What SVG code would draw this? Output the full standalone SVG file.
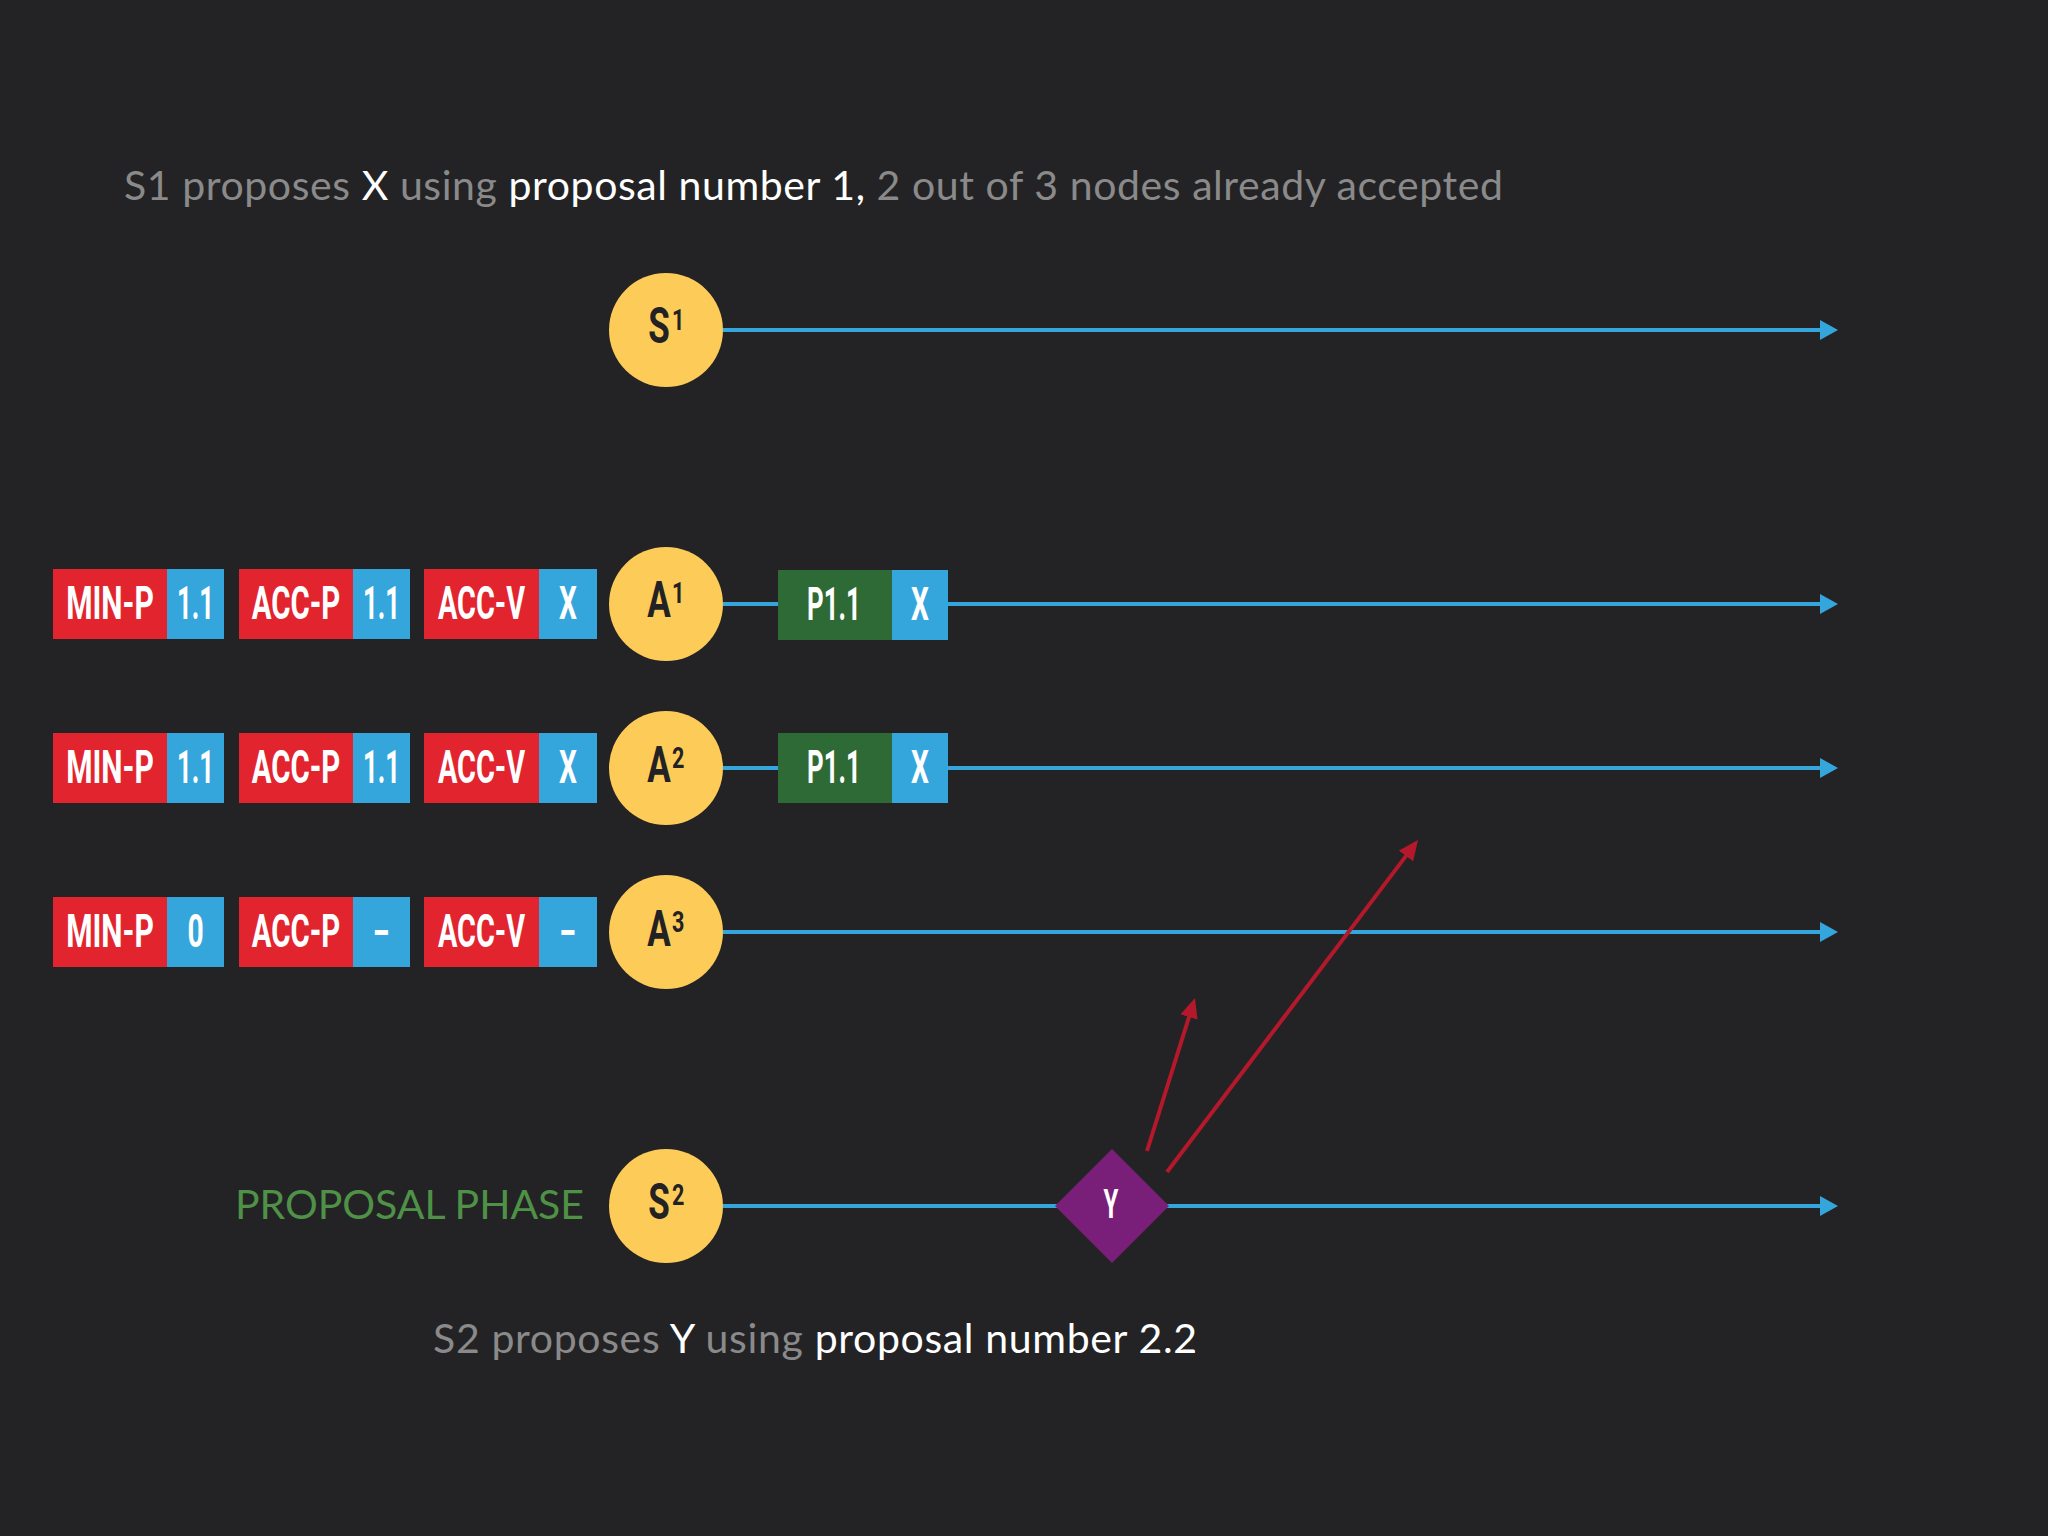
<svg xmlns="http://www.w3.org/2000/svg" width="2048" height="1536" viewBox="0 0 2048 1536">
<defs>
<style>
.bg{fill:#232325}
.cap{font-family:Lato,"Noto Sans","Liberation Sans",sans-serif;font-size:41px}
.g{fill:#8a8a8a}
.w{fill:#ffffff}
.node{fill:#fdcb58}
.nl{font-family:Roboto,"Liberation Sans",sans-serif;font-weight:bold;fill:#222224}
.bt{font-family:Roboto,"Liberation Sans",sans-serif;font-weight:bold;fill:#ffffff}
.red{fill:#e2242f}
.blue{fill:#35a6dc}
.green{fill:#2e6a35}
.tl{stroke:#35a6dc;stroke-width:4;fill:none}
.ra{stroke:#b3182b;stroke-width:4;fill:none}
</style>
<marker id="ab" markerUnits="userSpaceOnUse" markerWidth="18" markerHeight="20" refX="5" refY="10" orient="auto">
<path d="M0,0 L18,10 L0,20 z" fill="#35a6dc"/>
</marker>
<marker id="ar" markerUnits="userSpaceOnUse" markerWidth="20" markerHeight="18" refX="8" refY="9" orient="auto">
<path d="M0,0 L20,9 L0,18 z" fill="#b3182b"/>
</marker>
</defs>
<rect class="bg" x="0" y="0" width="2048" height="1536"/>

<g id="connectors">
<line class="tl" x1="723" y1="330" x2="1825" y2="330" marker-end="url(#ab)"/>
<line class="tl" x1="723" y1="604" x2="1825" y2="604" marker-end="url(#ab)"/>
<line class="tl" x1="723" y1="768" x2="1825" y2="768" marker-end="url(#ab)"/>
<line class="tl" x1="723" y1="932" x2="1825" y2="932" marker-end="url(#ab)"/>
<line class="tl" x1="723" y1="1206" x2="1825" y2="1206" marker-end="url(#ab)"/>
<line class="ra" x1="1147" y1="1151" x2="1191.4" y2="1009.4" marker-end="url(#ar)"/>
<line class="ra" x1="1167" y1="1172" x2="1410.8" y2="849.6" marker-end="url(#ar)"/>
</g>

<g id="title">
<text class="cap" x="124" y="200" font-size="41" textLength="1379"><tspan class="g">S1 proposes </tspan><tspan class="w">X</tspan><tspan class="g"> using </tspan><tspan class="w">proposal number 1,</tspan><tspan class="g"> 2 out of 3 nodes already accepted</tspan></text>
</g>

<g id="s1">
<circle class="node" cx="666" cy="330" r="57"/>
<text class="nl" transform="matrix(0.7,0,0,1,659,343)" font-size="50" text-anchor="middle">S</text>
<text class="nl" transform="matrix(0.72,0,0,1,672,330)" font-size="30">1</text>
</g>

<g id="a1-state">
<rect class="red" x="53" y="569" width="114" height="70"/><rect class="blue" x="167" y="569" width="57" height="70"/>
<text class="bt" transform="matrix(0.64,0,0,1,110,619)" font-size="47" text-anchor="middle">MIN-P</text>
<text class="bt" transform="matrix(0.55,0,0,1,195.5,619)" font-size="47" text-anchor="middle">1.1</text>
<rect class="red" x="239" y="569" width="114" height="70"/><rect class="blue" x="353" y="569" width="57" height="70"/>
<text class="bt" transform="matrix(0.625,0,0,1,296,619)" font-size="47" text-anchor="middle">ACC-P</text>
<text class="bt" transform="matrix(0.55,0,0,1,381.5,619)" font-size="47" text-anchor="middle">1.1</text>
<rect class="red" x="424" y="569" width="115" height="70"/><rect class="blue" x="539" y="569" width="58" height="70"/>
<text class="bt" transform="matrix(0.615,0,0,1,481.5,619)" font-size="47" text-anchor="middle">ACC-V</text>
<text class="bt" transform="matrix(0.6,0,0,1,568,619)" font-size="47" text-anchor="middle">X</text>
</g>
<g id="a1">
<circle class="node" cx="666" cy="604" r="57"/>
<text class="nl" transform="matrix(0.7,0,0,1,659,617)" font-size="50" text-anchor="middle">A</text>
<text class="nl" transform="matrix(0.72,0,0,1,672,603)" font-size="30">1</text>
</g>
<g id="a1-accepted">
<rect class="green" x="778" y="570" width="114" height="70"/><rect class="blue" x="892" y="570" width="56" height="70"/>
<text class="bt" transform="matrix(0.55,0,0,1,834,620)" font-size="47" text-anchor="middle">P1.1</text>
<text class="bt" transform="matrix(0.6,0,0,1,920,620)" font-size="47" text-anchor="middle">X</text>
</g>

<g id="a2-state">
<rect class="red" x="53" y="733" width="114" height="70"/><rect class="blue" x="167" y="733" width="57" height="70"/>
<text class="bt" transform="matrix(0.64,0,0,1,110,783)" font-size="47" text-anchor="middle">MIN-P</text>
<text class="bt" transform="matrix(0.55,0,0,1,195.5,783)" font-size="47" text-anchor="middle">1.1</text>
<rect class="red" x="239" y="733" width="114" height="70"/><rect class="blue" x="353" y="733" width="57" height="70"/>
<text class="bt" transform="matrix(0.625,0,0,1,296,783)" font-size="47" text-anchor="middle">ACC-P</text>
<text class="bt" transform="matrix(0.55,0,0,1,381.5,783)" font-size="47" text-anchor="middle">1.1</text>
<rect class="red" x="424" y="733" width="115" height="70"/><rect class="blue" x="539" y="733" width="58" height="70"/>
<text class="bt" transform="matrix(0.615,0,0,1,481.5,783)" font-size="47" text-anchor="middle">ACC-V</text>
<text class="bt" transform="matrix(0.6,0,0,1,568,783)" font-size="47" text-anchor="middle">X</text>
</g>
<g id="a2">
<circle class="node" cx="666" cy="768" r="57"/>
<text class="nl" transform="matrix(0.7,0,0,1,659,782)" font-size="50" text-anchor="middle">A</text>
<text class="nl" transform="matrix(0.72,0,0,1,672,768)" font-size="30">2</text>
</g>
<g id="a2-accepted">
<rect class="green" x="778" y="733" width="114" height="70"/><rect class="blue" x="892" y="733" width="56" height="70"/>
<text class="bt" transform="matrix(0.55,0,0,1,834,783)" font-size="47" text-anchor="middle">P1.1</text>
<text class="bt" transform="matrix(0.6,0,0,1,920,783)" font-size="47" text-anchor="middle">X</text>
</g>

<g id="a3-state">
<rect class="red" x="53" y="897" width="114" height="70"/><rect class="blue" x="167" y="897" width="57" height="70"/>
<text class="bt" transform="matrix(0.64,0,0,1,110,947)" font-size="47" text-anchor="middle">MIN-P</text>
<text class="bt" transform="matrix(0.6,0,0,1,195.5,947)" font-size="47" text-anchor="middle">0</text>
<rect class="red" x="239" y="897" width="114" height="70"/><rect class="blue" x="353" y="897" width="57" height="70"/>
<text class="bt" transform="matrix(0.625,0,0,1,296,947)" font-size="47" text-anchor="middle">ACC-P</text>
<text class="bt" transform="translate(381.5,947)" font-size="47" text-anchor="middle">-</text>
<rect class="red" x="424" y="897" width="115" height="70"/><rect class="blue" x="539" y="897" width="58" height="70"/>
<text class="bt" transform="matrix(0.615,0,0,1,481.5,947)" font-size="47" text-anchor="middle">ACC-V</text>
<text class="bt" transform="translate(568,947)" font-size="47" text-anchor="middle">-</text>
</g>
<g id="a3">
<circle class="node" cx="666" cy="932" r="57"/>
<text class="nl" transform="matrix(0.7,0,0,1,659,946)" font-size="50" text-anchor="middle">A</text>
<text class="nl" transform="matrix(0.72,0,0,1,672,932)" font-size="30">3</text>
</g>

<g id="phase-label">
<text class="cap" x="235" y="1219" font-size="41" textLength="349" fill="#4e9147">PROPOSAL PHASE</text>
</g>
<g id="s2">
<circle class="node" cx="666" cy="1206" r="57"/>
<text class="nl" transform="matrix(0.7,0,0,1,659,1219)" font-size="50" text-anchor="middle">S</text>
<text class="nl" transform="matrix(0.72,0,0,1,672,1205)" font-size="30">2</text>
</g>
<g id="y-value">
<polygon points="1112,1149 1169,1206 1112,1263 1055,1206" fill="#7a1f79"/>
<text class="bt" transform="matrix(0.6,0,0,1,1111,1218)" font-size="40" text-anchor="middle">Y</text>
</g>
<g id="caption">
<text class="cap" x="433" y="1353" font-size="41" textLength="764"><tspan class="g">S2 proposes </tspan><tspan class="w">Y</tspan><tspan class="g"> using </tspan><tspan class="w">proposal number 2.2</tspan></text>
</g>
</svg>
